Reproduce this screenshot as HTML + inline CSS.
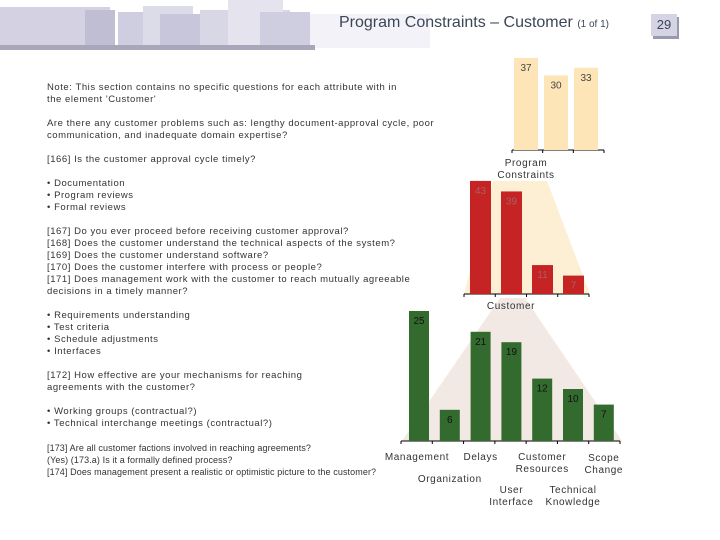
<!DOCTYPE html>
<html><head><meta charset="utf-8"><style>
body{margin:0;background:#fff;width:720px;height:540px;overflow:hidden;position:relative;font-family:"Liberation Sans",sans-serif}
.t{position:absolute;font-size:9.5px;color:#333;letter-spacing:0.55px;line-height:12px;white-space:nowrap}
.d{position:absolute}
</style></head><body>
<div>
<div class="d" style="left:290px;top:14px;width:140px;height:34px;background:#f3f2f8"></div>
<div class="d" style="left:0;top:7px;width:110px;height:38px;background:#d4d2e2"></div>
<div class="d" style="left:85px;top:10px;width:30px;height:40px;background:#c0bed2"></div>
<div class="d" style="left:118px;top:12px;width:70px;height:36px;background:#cfcde0"></div>
<div class="d" style="left:143px;top:6px;width:50px;height:42px;background:#dcdbe8"></div>
<div class="d" style="left:160px;top:14px;width:60px;height:34px;background:#c8c6da"></div>
<div class="d" style="left:200px;top:10px;width:90px;height:38px;background:#d8d7e6"></div>
<div class="d" style="left:228px;top:0;width:55px;height:48px;background:#e4e3ee"></div>
<div class="d" style="left:260px;top:12px;width:50px;height:36px;background:#cfcde0"></div>
<div class="d" style="left:0;top:45px;width:315px;height:5px;background:#a8a6b8"></div>
</div>
<div class="d" style="left:339px;top:14px;font-size:16px;color:#3b4656;white-space:nowrap">Program Constraints – Customer <span style="font-size:10px">(1 of 1)</span></div>
<div class="d" style="left:651px;top:14px;width:26px;height:22px;background:#d4d4e4;box-shadow:2px 3px 0 #9a9aae;font-size:13px;color:#3b4656;text-align:center;line-height:22px">29</div>

<div class="t" style="left:47px;top:82px">Note: This section contains no specific questions for each attribute with in<br>the element 'Customer'</div>
<div class="t" style="left:47px;top:118px">Are there any customer problems such as: lengthy document-approval cycle, poor<br>communication, and inadequate domain expertise?</div>
<div class="t" style="left:47px;top:154px">[166] Is the customer approval cycle timely?</div>
<div class="t" style="left:47px;top:178px">• Documentation<br>• Program reviews<br>• Formal reviews</div>
<div class="t" style="left:47px;top:226px">[167] Do you ever proceed before receiving customer approval?<br>[168] Does the customer understand the technical aspects of the system?<br>[169] Does the customer understand software?<br>[170] Does the customer interfere with process or people?<br>[171] Does management work with the customer to reach mutually agreeable<br>decisions in a timely manner?</div>
<div class="t" style="left:47px;top:310px">• Requirements understanding<br>• Test criteria<br>• Schedule adjustments<br>• Interfaces</div>
<div class="t" style="left:47px;top:370px">[172] How effective are your mechanisms for reaching<br>agreements with the customer?</div>
<div class="t" style="left:47px;top:406px">• Working groups (contractual?)<br>• Technical interchange meetings (contractual?)</div>
<div class="t" style="left:47px;top:442px;font-size:9px;letter-spacing:0.1px">[173] Are all customer factions involved in reaching agreements?<br>(Yes) (173.a) Is it a formally defined process?<br>[174] Does management present a realistic or optimistic picture to the customer?</div>

<svg id="c" width="720" height="540" style="position:absolute;left:0;top:0"></svg>
<script>
const topVals=[37,30,33];
const redVals=[43,39,11,7];
const greenVals=[25,6,21,19,12,10,7];
const greenCats=[["Management"],["Organization"],["Delays"],["User","Interface"],["Customer","Resources"],["Technical","Knowledge"],["Scope","Change"]];
const greenLabelY=[460,482,460,493,460,493,461];
const svg=document.getElementById('c');const NS='http://www.w3.org/2000/svg';
function mk(t,a,p){const e=document.createElementNS(NS,t);for(const k in a)e.setAttribute(k,a[k]);(p||svg).appendChild(e);return e;}
const f1=mk('polygon',{points:'493,181 547,181 590,294 464,294',fill:'#fcefd4'});


const f2=mk('polygon',{points:'500,298 525,298 622,441 402,441',fill:'#f2e8e4'});


function chart(vals,x0,step,bw,base,scale,fill,txt,name,axL,axR){
  const ax=mk('line',{x1:axL,x2:axR,y1:base,y2:base,stroke:'#000','stroke-width':1});
  
  
  for(let i=0;i<=vals.length;i++){const tx=axL+(axR-axL)*i/vals.length;mk('line',{x1:tx,x2:tx,y1:base,y2:base+3,stroke:'#000'});}
  vals.forEach((v,i)=>{const x=x0+i*step,h=v*scale;
    const r=mk('rect',{x:x,y:base-h,width:bw,height:h,fill:fill});
    
    
    const t=mk('text',{x:x+bw/2,y:base-h+13,'text-anchor':'middle','font-size':10,fill:txt,'font-family':'Liberation Sans'});t.textContent=v;
    
    
  });
}
chart(topVals,514,30,24,150,2.49,'#fde5b8','#444','program-constraints',512,604);
chart(redVals,470,31,21,294,2.63,'#c62424','#a86060','customer',464,589);
chart(greenVals,409,30.8,20,441,5.2,'#336b2e','#111','customer-sub',401,620);
function lab(x,y,lines,name,anchor){lines.forEach((s,j)=>{const t=mk('text',{x:x,y:y+j*12,'text-anchor':anchor||'middle','font-size':10,fill:'#333','letter-spacing':0.6,'font-family':'Liberation Sans'});t.textContent=s;
 
 });}
lab(526,166,['Program','Constraints'],'program-constraints-label');
lab(511,309,['Customer'],'customer-label');
greenCats.forEach((c,i)=>{lab(i==0?417:419+i*30.8,greenLabelY[i],c,'category-label');});
</script>
</body></html>
